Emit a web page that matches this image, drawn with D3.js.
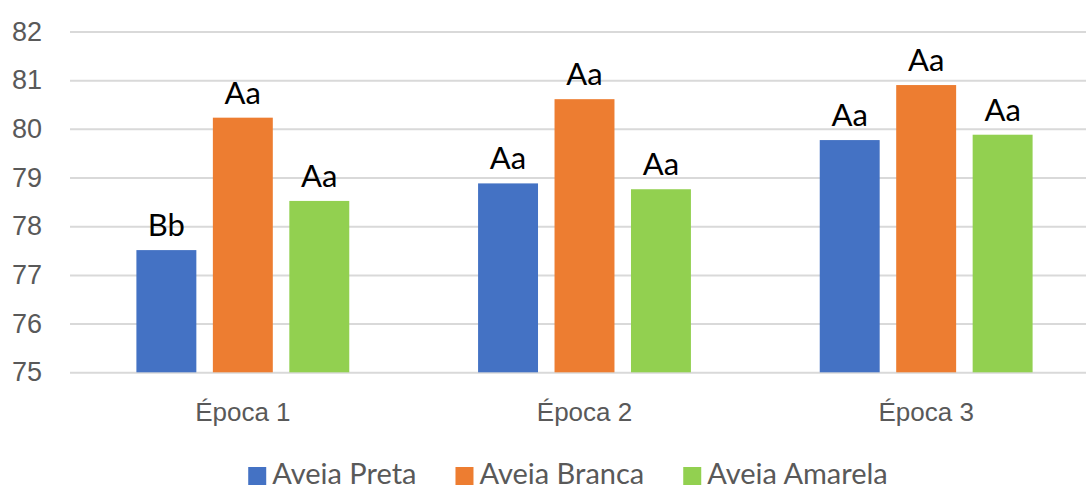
<!DOCTYPE html>
<html>
<head>
<meta charset="utf-8">
<script src="https://cdn.jsdelivr.net/npm/d3@7"></script>
<style>
    body { margin: 0; background: #fff; }
    svg { display: block; font-family: Lato, "Open Sans", sans-serif; }
</style>
</head>
<body>
<svg id="chart" width="1086" height="491"></svg>
<script>
// data
var categories = ["Época 1", "Época 2", "Época 3"];
var seriesNames = ["Aveia Preta", "Aveia Branca", "Aveia Amarela"];
var aveiaPreta = [77.51, 78.88, 79.77];
var aveiaBranca = [80.23, 80.61, 80.90];
var aveiaAmarela = [78.52, 78.76, 79.88];
var lettersPreta = ["Bb", "Aa", "Aa"];
var lettersBranca = ["Aa", "Aa", "Aa"];
var lettersAmarela = ["Aa", "Aa", "Aa"];
var yTicks = [75, 76, 77, 78, 79, 80, 81, 82];
var colors = ["#4472C4", "#ED7D31", "#92D050"];

var series = [aveiaPreta, aveiaBranca, aveiaAmarela];
var letters = [lettersPreta, lettersBranca, lettersAmarela];

var svg = d3.select("#chart");

// set the scales
var x0 = d3.scaleBand().domain(categories).range([72, 1097])
    .paddingInner(0.377).paddingOuter(0.1885);
var x1 = d3.scaleBand().domain(d3.range(seriesNames.length))
    .range([0, x0.bandwidth()]).paddingInner(0.216);
var y = d3.scaleLinear().domain([75, 82]).range([372.3, 31.5]);

// gridlines + y labels
var yAxis = svg.append("g")
    .attr("transform", "translate(70,0)")
    .call(d3.axisLeft(y).tickValues(yTicks).tickSize(-1030).tickPadding(28).tickFormat(d3.format("d")));
yAxis.select(".domain").remove();
yAxis.selectAll(".tick line").attr("stroke", "#d9d9d9").attr("stroke-width", 2);
yAxis.selectAll(".tick text").attr("fill", "#595959").attr("font-size", 27);

// bars
var groups = svg.append("g").selectAll("g")
    .data(categories)
    .enter().append("g")
    .attr("transform", function (d) { return "translate(" + x0(d) + ",0)"; });

function rows(d, i) {
    return series.map(function (s, k) { return { k: k, v: s[i], t: letters[k][i] }; });
}

groups.selectAll("rect")
    .data(rows)
    .enter().append("rect")
    .attr("x", function (d) { return x1(d.k); })
    .attr("y", function (d) { return y(d.v); })
    .attr("width", x1.bandwidth())
    .attr("height", function (d) { return y(75) - y(d.v); })
    .attr("fill", function (d) { return colors[d.k]; });

// letter labels above bars
groups.selectAll("text")
    .data(rows)
    .enter().append("text")
    .attr("x", function (d) { return x1(d.k) + x1.bandwidth() / 2; })
    .attr("y", function (d) { return y(d.v) - 14; })
    .attr("text-anchor", "middle")
    .attr("font-size", 31)
    .attr("fill", "#000")
    .text(function (d) { return d.t; });

// category labels
var xAxis = svg.append("g")
    .attr("transform", "translate(0,372.3)")
    .call(d3.axisBottom(x0).tickSize(0).tickPadding(30));
xAxis.select(".domain").remove();
xAxis.selectAll(".tick text").attr("fill", "#595959").attr("font-size", 26).attr("dy", "0.71em");

// legend
var legend = svg.append("g");
var lx = 0;
seriesNames.forEach(function (name, k) {
    var item = legend.append("g").attr("transform", "translate(" + lx + ",0)");
    item.append("rect").attr("x", 0).attr("y", 467).attr("width", 18).attr("height", 18).attr("fill", colors[k]);
    var t = item.append("text").attr("x", 24).attr("y", 484)
        .attr("font-size", 29).attr("fill", "#595959").text(name);
    lx += 24 + t.node().getComputedTextLength() + 39;
});
lx -= 39;
legend.attr("transform", "translate(" + (568 - lx / 2) + ",0)");
</script>
</body>
</html>
